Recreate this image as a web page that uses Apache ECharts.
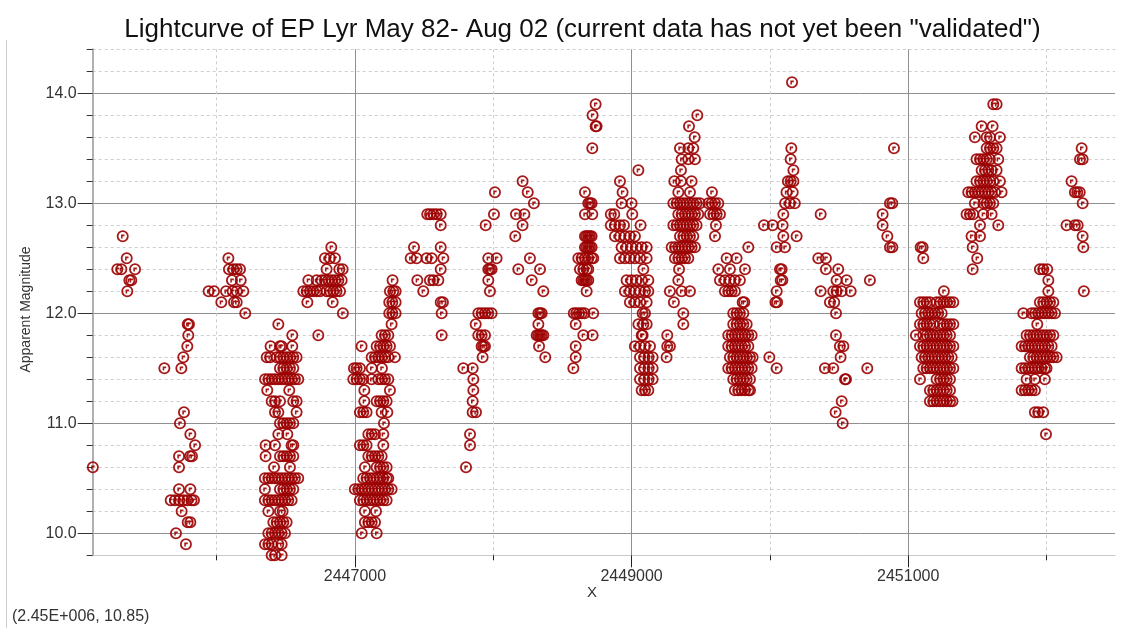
<!DOCTYPE html>
<html><head><meta charset="utf-8">
<script src="https://cdn.jsdelivr.net/npm/echarts@6/dist/echarts.min.js"></script>
<style>html,body{margin:0;padding:0;background:#fff}#c{width:1122px;height:628px}</style>
</head><body><div id="c"></div>
<script>
// ---- axis ticks / ranges ----
const xMajorTicks = [2447000, 2449000, 2451000];
const xMinorTicks = [2446000, 2448000, 2450000, 2452000];
const yMajorTicks = [10, 11, 12, 13, 14];
const yMinorTicks = [9.8, 10.2, 10.4, 10.6, 10.8, 11.2, 11.4, 11.6, 11.8, 12.2, 12.4, 12.6, 12.8, 13.2, 13.4, 13.6, 13.8, 14.2, 14.4];
const xRange = [2445104, 2452495];
const yRange = [9.8, 14.4];

// ---- observations: each row = [magnitude, JD, JD, ...] ----
const s1982 = [
  [12.7, 2445321], [12.5, 2445350], [12.4, 2445282, 2445311, 2445410],
  [12.3, 2445369, 2445383], [12.2, 2445354], [10.6, 2445105]
];
const s1983 = [
  [11.9, 2445791, 2445800], [11.8, 2445795], [11.7, 2445788], [11.6, 2445759],
  [11.5, 2445622, 2445745], [11.1, 2445764], [11.0, 2445735], [10.9, 2445810],
  [10.8, 2445844], [10.7, 2445728, 2445807, 2445822], [10.6, 2445728],
  [10.4, 2445728, 2445810], [10.3, 2445668, 2445699, 2445730, 2445759, 2445788, 2445819, 2445836],
  [10.2, 2445747], [10.1, 2445791, 2445810], [10.0, 2445706], [9.9, 2445778]
];
const s1984 = [
  [12.5, 2446085], [12.4, 2446089, 2446121, 2446145, 2446169], [12.3, 2446111, 2446174],
  [12.2, 2445942, 2445981, 2446068, 2446116, 2446145, 2446193],
  [12.1, 2446034, 2446126, 2446145], [12.0, 2446207]
];
const s1985 = [
  [11.9, 2446446], [11.8, 2446547], [11.7, 2446390, 2446458, 2446470, 2446547],
  [11.6, 2446362, 2446386, 2446434, 2446458, 2446482, 2446506, 2446530, 2446554, 2446578],
  [11.5, 2446458, 2446482, 2446506, 2446530, 2446554],
  [11.4, 2446350, 2446374, 2446398, 2446422, 2446446, 2446470, 2446494, 2446518, 2446542, 2446566, 2446590],
  [11.3, 2446366, 2446525], [11.2, 2446398, 2446422, 2446458, 2446554, 2446578],
  [11.1, 2446422, 2446446, 2446578], [11.0, 2446458, 2446482, 2446506, 2446530, 2446554],
  [10.9, 2446446, 2446511], [10.8, 2446354, 2446422, 2446542, 2446554],
  [10.7, 2446354, 2446458, 2446482, 2446506, 2446530, 2446554], [10.6, 2446415, 2446530],
  [10.5, 2446349, 2446374, 2446398, 2446422, 2446446, 2446470, 2446494, 2446518, 2446542, 2446566, 2446590],
  [10.4, 2446349, 2446458, 2446482, 2446506, 2446530, 2446554],
  [10.3, 2446349, 2446374, 2446398, 2446422, 2446446, 2446470, 2446494, 2446518, 2446542],
  [10.2, 2446374, 2446458, 2446477], [10.1, 2446410, 2446434, 2446458, 2446482, 2446506],
  [10.0, 2446374, 2446398, 2446422, 2446446, 2446470, 2446494],
  [9.9, 2446350, 2446374, 2446398, 2446446, 2446470], [9.8, 2446398, 2446422, 2446470]
];
const s1986 = [
  [12.6, 2446829], [12.5, 2446783, 2446819, 2446856], [12.4, 2446795, 2446887, 2446911],
  [12.3, 2446663, 2446723, 2446759, 2446783, 2446807, 2446831, 2446856, 2446880, 2446904],
  [12.2, 2446627, 2446651, 2446675, 2446699, 2446723, 2446747, 2446795, 2446819, 2446843, 2446867, 2446892],
  [12.1, 2446656, 2446839], [12.0, 2446913], [11.8, 2446735]
];
const s1987 = [
  [12.3, 2447272], [12.2, 2447253, 2447277, 2447294], [12.1, 2447248, 2447270, 2447294],
  [12.0, 2447248, 2447270, 2447294], [11.9, 2447265], [11.8, 2447193, 2447217, 2447241],
  [11.7, 2447048, 2447157, 2447181, 2447205, 2447229, 2447253],
  [11.6, 2447121, 2447145, 2447169, 2447193, 2447217, 2447241, 2447289],
  [11.5, 2446993, 2447012, 2447036, 2447121, 2447195],
  [11.4, 2446988, 2447012, 2447036, 2447060, 2447121, 2447169, 2447193, 2447217, 2447241],
  [11.3, 2447068, 2447253], [11.2, 2447068, 2447157, 2447181, 2447205, 2447229],
  [11.1, 2447036, 2447060, 2447084, 2447193, 2447234], [11.0, 2447210],
  [10.9, 2447097, 2447121, 2447145, 2447205], [10.8, 2447036, 2447060, 2447084, 2447205],
  [10.7, 2447097, 2447121, 2447145, 2447169, 2447193],
  [10.6, 2447072, 2447157, 2447181, 2447205, 2447229],
  [10.5, 2447060, 2447084, 2447109, 2447133, 2447157, 2447181, 2447205, 2447229, 2447241],
  [10.4, 2446999, 2447024, 2447048, 2447072, 2447097, 2447121, 2447145, 2447169, 2447193, 2447217, 2447241, 2447265],
  [10.3, 2447036, 2447060, 2447084, 2447109, 2447133, 2447157, 2447181, 2447205, 2447229],
  [10.2, 2447072, 2447152], [10.1, 2447072, 2447097, 2447121, 2447145], [10.0, 2447049, 2447157]
];
const s1988 = [
  [12.9, 2447523, 2447543, 2447567, 2447591, 2447620], [12.8, 2447620],
  [12.6, 2447427, 2447620], [12.5, 2447403, 2447446, 2447518, 2447555, 2447639],
  [12.4, 2447620], [12.3, 2447451, 2447542, 2447567, 2447603], [12.2, 2447494],
  [12.1, 2447620, 2447636], [12.0, 2447627], [11.8, 2447627]
];
const s1989 = [
  [13.1, 2448012], [12.9, 2448005], [12.8, 2447945], [12.5, 2447964, 2448024],
  [12.4, 2447964, 2447976, 2447988], [12.3, 2447964], [12.2, 2447976],
  [12.0, 2447892, 2447916, 2447940, 2447964, 2447988], [11.9, 2447873],
  [11.8, 2447892, 2447916, 2447940], [11.7, 2447916, 2447928, 2447940], [11.6, 2447923],
  [11.5, 2447783, 2447851], [11.4, 2447856], [11.3, 2447856], [11.2, 2447851],
  [11.1, 2447851, 2447875], [10.9, 2447832], [10.8, 2447832], [10.6, 2447803]
];
const s1990 = [
  [13.2, 2448212], [13.1, 2448249], [13.0, 2448294], [12.9, 2448164, 2448225],
  [12.8, 2448212], [12.7, 2448159], [12.5, 2448265], [12.4, 2448181, 2448338],
  [12.3, 2448278], [12.2, 2448362], [12.0, 2448326, 2448338, 2448350], [11.9, 2448326],
  [11.8, 2448314, 2448326, 2448338, 2448350, 2448362], [11.7, 2448331], [11.6, 2448376]
];
const s1991 = [
  [13.9, 2448740], [13.8, 2448718], [13.7, 2448740, 2448747], [13.5, 2448716],
  [13.1, 2448663], [13.0, 2448687, 2448699, 2448711], [12.9, 2448663, 2448716],
  [12.7, 2448663, 2448675, 2448687, 2448699, 2448711],
  [12.6, 2448663, 2448675, 2448687, 2448699, 2448711],
  [12.5, 2448615, 2448639, 2448663, 2448687, 2448711, 2448723],
  [12.4, 2448627, 2448651, 2448675, 2448687],
  [12.3, 2448639, 2448651, 2448663, 2448675, 2448687], [12.2, 2448675],
  [12.0, 2448582, 2448600, 2448620, 2448640, 2448660, 2448723], [11.9, 2448596],
  [11.8, 2448651, 2448718], [11.7, 2448596], [11.6, 2448596], [11.5, 2448579]
];
const s1992 = [
  [13.3, 2449049], [13.2, 2448916], [13.1, 2448935], [13.0, 2448928, 2449000],
  [12.9, 2448850, 2448875, 2449005], [12.8, 2448850, 2448880, 2448916, 2448945, 2449065],
  [12.7, 2448880, 2448916, 2448952, 2448988, 2449024],
  [12.6, 2448928, 2448964, 2449000, 2449036, 2449073, 2449109],
  [12.5, 2448916, 2448952, 2448988, 2449024, 2449061, 2449109], [12.4, 2449085],
  [12.3, 2448964, 2449000, 2449036, 2449073, 2449121],
  [12.2, 2448952, 2448988, 2449024, 2449061, 2449097, 2449121],
  [12.1, 2448988, 2449024, 2449061, 2449109], [12.0, 2449080, 2449097],
  [11.9, 2449049, 2449085, 2449109], [11.8, 2449073, 2449080],
  [11.7, 2449024, 2449061, 2449097, 2449133], [11.6, 2449061, 2449092, 2449123, 2449152],
  [11.5, 2449061, 2449092, 2449123, 2449152], [11.4, 2449061, 2449092, 2449123, 2449152],
  [11.3, 2449073, 2449097, 2449121]
];
const s1993 = [
  [13.8, 2449475], [13.7, 2449415], [13.6, 2449456], [13.5, 2449350, 2449410, 2449446],
  [13.4, 2449362, 2449410, 2449458], [13.3, 2449357], [13.2, 2449309, 2449357, 2449434],
  [13.1, 2449338, 2449422, 2449581],
  [13.0, 2449302, 2449326, 2449350, 2449374, 2449398, 2449422, 2449446, 2449470, 2449494, 2449555, 2449579, 2449603, 2449627],
  [12.9, 2449338, 2449362, 2449386, 2449410, 2449434, 2449458, 2449482, 2449567, 2449591, 2449615, 2449639],
  [12.8, 2449302, 2449326, 2449350, 2449374, 2449398, 2449422, 2449446, 2449470, 2449610],
  [12.7, 2449350, 2449374, 2449398, 2449422, 2449446, 2449603],
  [12.6, 2449290, 2449314, 2449338, 2449362, 2449386, 2449410, 2449434, 2449458],
  [12.5, 2449314, 2449338, 2449362, 2449386, 2449410], [12.4, 2449343], [12.3, 2449338],
  [12.2, 2449277, 2449362, 2449422], [12.1, 2449306], [12.0, 2449374], [11.9, 2449374],
  [11.8, 2449258], [11.7, 2449258, 2449277], [11.6, 2449253]
];
const s1994 = [
  [12.6, 2449844], [12.5, 2449687, 2449759], [12.4, 2449627, 2449711, 2449820],
  [12.3, 2449639, 2449675, 2449711, 2449747, 2449783], [12.2, 2449675, 2449699, 2449723, 2449747],
  [12.1, 2449803, 2449815], [12.0, 2449735, 2449759, 2449783, 2449808],
  [11.9, 2449735, 2449759, 2449783, 2449808, 2449832],
  [11.8, 2449699, 2449723, 2449747, 2449771, 2449795, 2449820, 2449844, 2449868],
  [11.7, 2449699, 2449723, 2449747, 2449771, 2449795, 2449820, 2449844],
  [11.6, 2449711, 2449735, 2449759, 2449783, 2449808, 2449832, 2449856, 2449875],
  [11.5, 2449699, 2449723, 2449747, 2449771, 2449795, 2449820, 2449844, 2449868],
  [11.4, 2449735, 2449759, 2449783, 2449808, 2449832, 2449856],
  [11.3, 2449747, 2449771, 2449795, 2449820, 2449844, 2449856]
];
const s1995 = [
  [14.1, 2450160], [13.5, 2450155], [13.4, 2450150], [13.3, 2450170],
  [13.2, 2450130, 2450150, 2450170], [13.1, 2450120, 2450165], [13.0, 2450110, 2450145, 2450180],
  [12.9, 2450097], [12.8, 2449957, 2450020, 2450092], [12.7, 2450097, 2450193],
  [12.6, 2450049, 2450109], [12.4, 2450073, 2450085], [12.3, 2450078, 2450090],
  [12.2, 2450049], [12.1, 2450040, 2450052], [11.6, 2449996], [11.5, 2450049]
];
const s1996 = [
  [12.9, 2450367], [12.5, 2450350, 2450405], [12.4, 2450405, 2450494],
  [12.3, 2450482, 2450555, 2450723], [12.2, 2450367, 2450458, 2450482, 2450519, 2450584],
  [12.1, 2450434, 2450465], [12.0, 2450478], [11.8, 2450478], [11.7, 2450506, 2450531],
  [11.6, 2450511], [11.5, 2450398, 2450458, 2450704], [11.4, 2450543, 2450550],
  [11.2, 2450519], [11.1, 2450475], [11.0, 2450526]
];
const s1997 = [
  [13.5, 2450897], [13.0, 2450868, 2450885], [12.9, 2450815], [12.8, 2450815],
  [12.7, 2450849], [12.6, 2450868, 2450885]
];
const s1998 = [
  [12.6, 2451090, 2451104], [12.5, 2451109], [12.2, 2451258],
  [12.1, 2451085, 2451109, 2451133, 2451157, 2451205, 2451230, 2451254, 2451278, 2451302, 2451326],
  [12.0, 2451097, 2451121, 2451145, 2451169, 2451193, 2451217, 2451242],
  [11.9, 2451085, 2451109, 2451133, 2451157, 2451181, 2451230, 2451254, 2451278, 2451302, 2451326],
  [11.8, 2451056, 2451109, 2451133, 2451157, 2451181, 2451205, 2451230, 2451254, 2451278, 2451302],
  [11.7, 2451085, 2451109, 2451133, 2451157, 2451181, 2451205, 2451230, 2451254, 2451278, 2451302, 2451326],
  [11.6, 2451097, 2451121, 2451145, 2451169, 2451193, 2451217, 2451242, 2451266, 2451290, 2451314],
  [11.5, 2451109, 2451133, 2451157, 2451181, 2451205, 2451230, 2451254, 2451278, 2451302, 2451326],
  [11.4, 2451085, 2451205, 2451230, 2451254, 2451278, 2451302],
  [11.3, 2451157, 2451181, 2451205, 2451230, 2451254, 2451278, 2451302],
  [11.2, 2451157, 2451181, 2451205, 2451230, 2451254, 2451278, 2451302, 2451320]
];
const s1999 = [
  [13.9, 2451615, 2451639], [13.7, 2451531, 2451610], [13.6, 2451482, 2451567, 2451591, 2451663],
  [13.5, 2451567, 2451591, 2451615, 2451639],
  [13.4, 2451494, 2451519, 2451543, 2451567, 2451591, 2451651],
  [13.3, 2451531, 2451555, 2451579, 2451603, 2451639],
  [13.2, 2451494, 2451519, 2451543, 2451567, 2451591, 2451615, 2451663],
  [13.1, 2451434, 2451458, 2451482, 2451507, 2451531, 2451555, 2451579, 2451603, 2451627, 2451675],
  [13.0, 2451482, 2451543, 2451567, 2451591, 2451615],
  [12.9, 2451422, 2451446, 2451470, 2451543, 2451603], [12.8, 2451519, 2451651],
  [12.7, 2451458, 2451519], [12.6, 2451466], [12.5, 2451499], [12.4, 2451466]
];
const s2000 = [
  [12.4, 2451952, 2451976, 2452005], [12.3, 2452013], [12.2, 2452013],
  [12.1, 2451952, 2451976, 2452000, 2452025, 2452049],
  [12.0, 2451832, 2451892, 2451916, 2451940, 2451964, 2451988, 2452013, 2452037, 2452061],
  [11.9, 2451933],
  [11.8, 2451856, 2451880, 2451904, 2451928, 2451952, 2451976, 2452000, 2452025, 2452049],
  [11.7, 2451820, 2451844, 2451868, 2451892, 2451916, 2451940, 2451964, 2451988, 2452013, 2452037],
  [11.6, 2451880, 2451904, 2451928, 2451952, 2451976, 2452000, 2452025, 2452049, 2452073],
  [11.5, 2451820, 2451844, 2451868, 2451892, 2451916, 2451940, 2451964, 2451988, 2452000],
  [11.4, 2451856, 2451916, 2451988], [11.3, 2451820, 2451844, 2451868, 2451892, 2451916],
  [11.1, 2451916, 2451940, 2451976], [10.9, 2451996]
];
const s2001 = [
  [13.5, 2452254], [13.4, 2452242, 2452261], [13.2, 2452181], [13.1, 2452205, 2452222, 2452240],
  [13.0, 2452261], [12.8, 2452145, 2452205, 2452225], [12.7, 2452261], [12.6, 2452266],
  [12.2, 2452270]
];
const seasons = [s1982, s1983, s1984, s1985, s1986, s1987, s1988, s1989, s1990, s1991,
                 s1992, s1993, s1994, s1995, s1996, s1997, s1998, s1999, s2000, s2001];

const titleText = 'Lightcurve of EP Lyr May 82- Aug 02 (current data has not yet been "validated")';
const yName = 'Apparent Magnitude';
const xName = 'X';
const cursorText = '(2.45E+006, 10.85)';

function toPoints(rows) {
  const out = [];
  rows.forEach(r => { for (let i = 1; i < r.length; i++) out.push([r[i], r[0]]); });
  return out;
}
const points = [].concat(...seasons.map(toPoints));

const FONT = "'Liberation Sans', Arial, sans-serif";
const MARK = 'path://M50,0A50,50,0,1,1,49.9,0ZM50,15A35,35,0,1,0,50.1,15ZM36,34L65,34L65,50L49,50L49,68L36,68Z';

const chart = echarts.init(document.getElementById('c'), null, { renderer: 'canvas' });
chart.setOption({
  backgroundColor: '#ffffff',
  animation: false,
  grid: { left: 92.7, right: 7, top: 49.3, bottom: 72.7, containLabel: false },
  xAxis: [
    { type: 'value', min: xRange[0], max: xRange[1], position: 'bottom',
      axisLine: { show: true, lineStyle: { color: '#c8c8c8', width: 1 } },
      axisTick: { show: true, customValues: xMajorTicks, length: 12, lineStyle: { color: '#222', width: 1 } },
      axisLabel: { show: true, customValues: xMajorTicks, fontSize: 16, color: '#333', margin: 13, fontFamily: FONT,
                   formatter: v => String(v) },
      splitLine: { show: true, lineStyle: { color: '#8f8f8f', width: 1 } } },
    { type: 'value', min: xRange[0], max: xRange[1], position: 'bottom',
      axisLine: { show: false },
      axisTick: { show: true, customValues: xMinorTicks, length: 5, lineStyle: { color: '#222', width: 1 } },
      axisLabel: { show: false },
      splitLine: { show: true, lineStyle: { color: '#cdcdcd', width: 1, type: [3, 3] } } }
  ],
  yAxis: [
    { type: 'value', min: yRange[0], max: yRange[1], position: 'left',
      axisLine: { show: true, lineStyle: { color: '#b0b0b0', width: 2 } },
      axisTick: { show: true, customValues: yMajorTicks, length: 15, lineStyle: { color: '#333', width: 1 } },
      axisLabel: { show: true, customValues: yMajorTicks, fontSize: 16, color: '#333', margin: 16, fontFamily: FONT,
                   formatter: v => Number(v).toFixed(1) },
      splitLine: { show: true, lineStyle: { color: '#8f8f8f', width: 1 } } },
    { type: 'value', min: yRange[0], max: yRange[1], position: 'left',
      axisLine: { show: false },
      axisTick: { show: true, customValues: yMinorTicks, length: 6, lineStyle: { color: '#333', width: 1 } },
      axisLabel: { show: false },
      splitLine: { show: true, lineStyle: { color: '#cdcdcd', width: 1, type: [3, 3] } } }
  ],
  series: [{
    type: 'scatter', xAxisIndex: 0, yAxisIndex: 0, data: points,
    symbol: MARK, symbolSize: 12, silent: true,
    itemStyle: { color: '#9c0000', opacity: 0.9 }
  }],
  graphic: [
    { type: 'line', shape: { x1: 6.5, y1: 40, x2: 6.5, y2: 628 }, style: { stroke: '#cccccc', lineWidth: 1 }, silent: true },
    { type: 'text', x: 582.5, y: 30, style: { text: titleText, font: '26px ' + FONT, fill: '#111', textAlign: 'center', textVerticalAlign: 'middle' } },
    { type: 'text', x: 26.5, y: 309.5, rotation: Math.PI / 2, style: { text: yName, font: '14px ' + FONT, fill: '#333', textAlign: 'center', textVerticalAlign: 'middle' } },
    { type: 'text', x: 592, y: 593, style: { text: xName, font: '15px ' + FONT, fill: '#333', textAlign: 'center', textVerticalAlign: 'middle' } },
    { type: 'text', x: 12, y: 617, style: { text: cursorText, font: '16px ' + FONT, fill: '#333', textAlign: 'left', textVerticalAlign: 'middle' } }
  ]
});
</script></body></html>
